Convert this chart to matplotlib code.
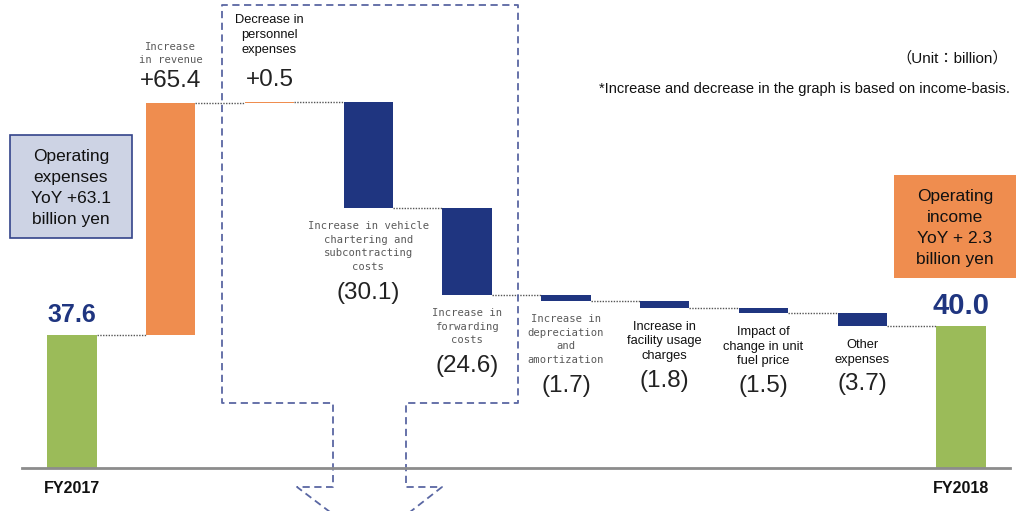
import matplotlib.pyplot as plt
from matplotlib.lines import Line2D
from matplotlib.patches import Rectangle

# values (billion yen)
start_label = 'FY2017'
end_label = 'FY2018'
start_value = 37.6
end_value = 40.0

step_labels = [
    'Increase\nin revenue',
    'Decrease in\npersonnel\nexpenses',
    'Increase in vehicle\nchartering and\nsubcontracting\ncosts',
    'Increase in\nforwarding\ncosts',
    'Increase in\ndepreciation\nand\namortization',
    'Increase in\nfacility usage\ncharges',
    'Impact of\nchange in unit\nfuel price',
    'Other\nexpenses',
]
step_values = [65.4, 0.5, -30.1, -24.6, -1.7, -1.8, -1.5, -3.7]

left_note = 'Operating\nexpenses\nYoY +63.1\nbillion yen'
right_note = 'Operating\nincome\nYoY + 2.3\nbillion yen'
unit_note = '（Unit：billion）'
basis_note = '*Increase and decrease in the graph is based on income-basis.'

GREEN = '#9BBB59'
ORANGE = '#EF8D4F'
NAVY = '#1F3580'
W, H = 1017, 511
BASE_PX = 468          # pixel row of the zero line
PX_PER_UNIT = 3.54
X0_PX, DX_PX = 72, 98.78

SANS = ['Liberation Sans', 'DejaVu Sans']
MONO = ['DejaVu Sans Mono']
mono_steps = {0, 2, 3, 4}

fig = plt.figure(figsize=(W / 100, H / 100), dpi=100)
ax = fig.add_axes([0, 0, 1, 1])
ax.set_xlim(-X0_PX / DX_PX, (W - X0_PX) / DX_PX)
ax.set_ylim((BASE_PX - H) / PX_PER_UNIT, BASE_PX / PX_PER_UNIT)
ax.axis('off')


def fx(px):
    return px / W


def fy(py):
    return 1 - py / H


bw = 0.5
n = len(step_values)

# total bars
ax.bar(0, start_value, width=bw, color=GREEN, zorder=3)
ax.bar(n + 1, end_value, width=bw, color=GREEN, zorder=3)

# step bars
level = start_value
levels = [start_value]
for i, v in enumerate(step_values):
    x = i + 1
    bottom = level if v > 0 else level + v
    ax.bar(x, abs(v), bottom=bottom, width=bw,
           color=ORANGE if v > 0 else NAVY, zorder=3)
    level += v
    levels.append(level)

# dotted connectors
for i, lv in enumerate(levels):
    ax.plot([i + bw / 2, i + 1 - bw / 2], [lv, lv], color='#555555',
            lw=1, ls=(0, (1, 1)), zorder=2)

# step labels
level = start_value
for i, (lab, v) in enumerate(zip(step_labels, step_values)):
    x = i + 1
    mono = i in mono_steps
    fam = MONO if mono else SANS
    col = '#5a5a5a' if mono else '#111111'
    fs = 7.6 if mono else 9.3
    ls = 1.45 if mono else 1.3
    nlines = lab.count('\n') + 1
    lh = 14.5 if mono else 15.5
    val = f'+{v}' if v > 0 else f'({abs(v)})'
    if v > 0:
        top = level + v
        ax.annotate(val, (x, top), xytext=(0, 22), textcoords='offset pixels',
                    ha='center', va='center', fontsize=17.5, family=SANS, color='#222222')
        ax.annotate(lab, (x, top), xytext=(0, 38 if mono else 46), textcoords='offset pixels',
                    ha='center', va='bottom', fontsize=fs, family=fam, color=col,
                    linespacing=ls)
    else:
        bottom = level + v
        ax.annotate(lab, (x, bottom), xytext=(0, -13), textcoords='offset pixels',
                    ha='center', va='top', fontsize=fs, family=fam, color=col,
                    linespacing=ls)
        ax.annotate(val, (x, bottom), xytext=(0, -15 - nlines * lh - 12),
                    textcoords='offset pixels', ha='center', va='center',
                    fontsize=17.5, family=SANS, color='#222222')
    level += v

# totals
ax.annotate(f'{start_value}', (0, start_value), xytext=(0, 20), textcoords='offset pixels',
            ha='center', va='center', fontsize=18, fontweight='bold', family=SANS, color=NAVY)
ax.annotate(f'{end_value:.1f}', (n + 1, end_value), xytext=(0, 20), textcoords='offset pixels',
            ha='center', va='center', fontsize=21, fontweight='bold', family=SANS, color=NAVY)
ax.annotate(start_label, (0, 0), xytext=(0, -20), textcoords='offset pixels',
            ha='center', va='center', fontsize=11.5, fontweight='bold', family=SANS, color='#111111')
ax.annotate(end_label, (n + 1, 0), xytext=(0, -20), textcoords='offset pixels',
            ha='center', va='center', fontsize=11.5, fontweight='bold', family=SANS, color='#111111')

# zero line
fig.add_artist(Line2D([fx(22), fx(1010)], [fy(BASE_PX), fy(BASE_PX)],
                      color='#8c8c8c', lw=2, zorder=4))

# dashed callout with arrow
pts = [(330, 512), (297, 487), (333, 487), (333, 403), (222, 403), (222, 5),
       (518, 5), (518, 403), (406, 403), (406, 487), (442, 487), (410, 512)]
fig.add_artist(Line2D([fx(p[0]) for p in pts], [fy(p[1]) for p in pts],
                      color='#5a67a3', lw=1.3, ls=(0, (4, 2.5)), zorder=1))

# side notes
fig.add_artist(Rectangle((fx(10), fy(238)), fx(122), 103 / H, transform=fig.transFigure,
                         facecolor='#CDD3E4', edgecolor='#34448A', lw=1.2, zorder=1))
fig.text(fx(71), fy(188), left_note, ha='center', va='center', fontsize=12.5,
         family=SANS, color='#111111', linespacing=1.5)
fig.add_artist(Rectangle((fx(894), fy(278)), fx(122), 103 / H, transform=fig.transFigure,
                         facecolor=ORANGE, edgecolor='none', zorder=1))
fig.text(fx(955), fy(228), right_note, ha='center', va='center', fontsize=12.5,
         family=SANS, color='#111111', linespacing=1.5)

fig.text(fx(1008), fy(58), unit_note, ha='right', va='center', fontsize=11,
         family=['Liberation Sans', 'Noto Sans CJK JP'], color='#111111')
fig.text(fx(1010), fy(89), basis_note, ha='right', va='center', fontsize=10.5,
         family=SANS, color='#111111')

fig.savefig('out.png', dpi=100, facecolor='white')
